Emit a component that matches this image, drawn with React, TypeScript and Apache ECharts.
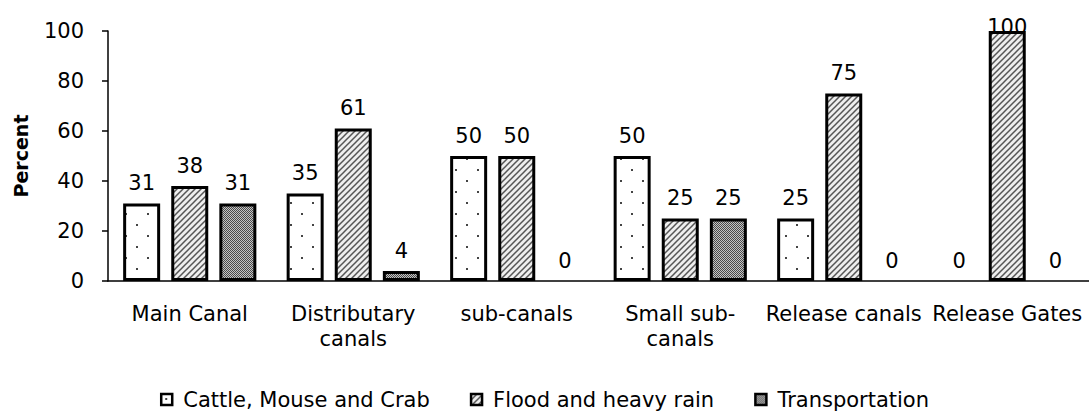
import React, { useEffect, useRef } from "react";
import * as echarts from "echarts";

const categories = ["Main Canal", "Distributary\ncanals", "sub-canals", "Small sub-\ncanals", "Release canals", "Release Gates"];
const seriesNames = ["Cattle, Mouse and Crab", "Flood and heavy rain", "Transportation"];
const cattle = [31, 35, 50, 50, 25, 0];
const flood = [38, 61, 50, 25, 75, 100];
const transport = [31, 4, 0, 25, 0, 0];
const yTicks = { min: 0, max: 100, interval: 20 };

const FONT = "'DejaVu Sans', sans-serif";

function makeTile(w: number, h: number, draw: (ctx: CanvasRenderingContext2D) => void) {
  const c = document.createElement("canvas");
  c.width = w;
  c.height = h;
  const ctx = c.getContext("2d")!;
  draw(ctx);
  return { image: c, repeat: "repeat", imageWidth: w, imageHeight: h } as any;
}

function dotsPattern() {
  return makeTile(22, 22, (ctx) => {
    ctx.fillStyle = "#ffffff";
    ctx.fillRect(0, 0, 22, 22);
    ctx.fillStyle = "#444";
    ctx.fillRect(4, 4, 2, 2);
    ctx.fillRect(15, 15, 2, 2);
  });
}

function hatchPattern() {
  return makeTile(6, 6, (ctx) => {
    ctx.fillStyle = "#eeeeee";
    ctx.fillRect(0, 0, 6, 6);
    ctx.strokeStyle = "#555";
    ctx.lineWidth = 1.5;
    ctx.beginPath();
    ctx.moveTo(-1, 7);
    ctx.lineTo(7, -1);
    ctx.moveTo(-1, 1);
    ctx.lineTo(1, -1);
    ctx.moveTo(5, 7);
    ctx.lineTo(7, 5);
    ctx.stroke();
  });
}

function checkPattern() {
  return makeTile(2, 2, (ctx) => {
    ctx.fillStyle = "#c4c4c4";
    ctx.fillRect(0, 0, 2, 2);
    ctx.fillStyle = "#4a4a4a";
    ctx.fillRect(0, 0, 1, 1);
    ctx.fillRect(1, 1, 1, 1);
  });
}

export default function App() {
  const ref = useRef<HTMLDivElement>(null);
  useEffect(() => {
    document.body.style.margin = "0";
    const chart = echarts.init(ref.current!, null, { renderer: "svg" });
    const patterns = [dotsPattern(), hatchPattern(), checkPattern()];
    const values = [cattle, flood, transport];
    const labelStyle = { show: true, position: "top", distance: 10, color: "#000", fontSize: 21, fontFamily: FONT };
    const toItem = (v: number) => {
      if (v >= 100) return { value: v, label: { distance: -6 } };
      if (v === 0) return { value: v, itemStyle: { borderWidth: 0 } };
      return v;
    };
    chart.setOption({
      animation: false,
      textStyle: { fontFamily: FONT },
      grid: { left: 108, right: 0, top: 31, bottom: 136, containLabel: false },
      legend: {
        bottom: 2,
        left: "center",
        icon: "rect",
        itemWidth: 11,
        itemHeight: 11,
        itemGap: 40,
        textStyle: { fontSize: 21, color: "#000", fontFamily: FONT, padding: [0, 0, 0, 6] },
        itemStyle: { borderColor: "#000", borderWidth: 2.5 },
        data: seriesNames,
      },
      xAxis: {
        type: "category",
        data: categories,
        axisLine: { lineStyle: { color: "#000", width: 1.5 } },
        axisTick: { alignWithLabel: true, length: 6, lineStyle: { color: "#000", width: 1.5 } },
        axisLabel: { color: "#000", fontSize: 21, margin: 20, lineHeight: 25, interval: 0, fontFamily: FONT },
      },
      yAxis: {
        type: "value",
        min: yTicks.min,
        max: yTicks.max,
        interval: yTicks.interval,
        name: "Percent",
        nameLocation: "middle",
        nameGap: 78,
        nameTextStyle: { color: "#000", fontSize: 19, fontWeight: "bold", fontFamily: FONT },
        axisLine: { show: true, lineStyle: { color: "#000", width: 1.5 } },
        axisTick: { show: true, length: 6, lineStyle: { color: "#000", width: 1.5 } },
        axisLabel: { color: "#000", fontSize: 21, margin: 24, fontFamily: FONT },
        splitLine: { show: false },
      },
      series: values.map((vals, i) => ({
        name: seriesNames[i],
        type: "bar",
        barWidth: 37,
        barGap: "30%",
        data: vals.map(toItem),
        itemStyle: { color: patterns[i], borderColor: "#000", borderWidth: 3 },
        label: labelStyle,
      })),
    });
    return () => chart.dispose();
  }, []);
  return <div ref={ref} style={{ width: 1089, height: 417 }} />;
}
